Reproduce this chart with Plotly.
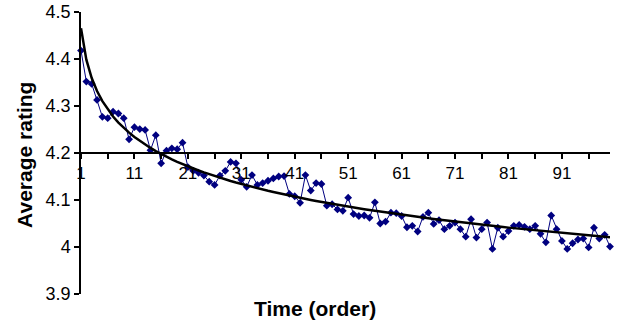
import numpy as np
import plotly.graph_objects as go

# Category index (time order) and average rating per position
order = list(range(1, 101))
avg_rating = [
    4.418, 4.352, 4.347, 4.313, 4.277, 4.274, 4.288, 4.284, 4.274, 4.229,
    4.255, 4.251, 4.249, 4.206, 4.238, 4.178, 4.205, 4.210, 4.208, 4.222,
    4.170, 4.162, 4.158, 4.152, 4.139, 4.132, 4.152, 4.162, 4.181, 4.178,
    4.143, 4.128, 4.153, 4.132, 4.136, 4.141, 4.146, 4.150, 4.151, 4.113,
    4.108, 4.094, 4.153, 4.120, 4.136, 4.134, 4.088, 4.091, 4.080, 4.077,
    4.105, 4.070, 4.066, 4.067, 4.062, 4.095, 4.050, 4.054, 4.073, 4.072,
    4.066, 4.042, 4.045, 4.033, 4.064, 4.073, 4.049, 4.057, 4.038, 4.045,
    4.052, 4.038, 4.022, 4.059, 4.020, 4.038, 4.052, 3.996, 4.041, 4.022,
    4.034, 4.045, 4.047, 4.043, 4.038, 4.045, 4.028, 4.010, 4.067, 4.038,
    4.013, 3.996, 4.008, 4.016, 4.018, 3.999, 4.041, 4.018, 4.026, 4.001,
]
x_tick_vals = [1, 11, 21, 31, 41, 51, 61, 71, 81, 91]
x_tick_text = [str(v) for v in x_tick_vals]
y_tick_vals = [3.9, 4.0, 4.1, 4.2, 4.3, 4.4, 4.5]
y_tick_text = ["3.9", "4", "4.1", "4.2", "4.3", "4.4", "4.5"]

# Logarithmic trendline (least squares on ln(x)), as Excel does
xs = np.array(order, dtype=float)
a, b = np.polyfit(np.log(xs), np.array(avg_rating), 1)
trend = a * np.log(xs) + b

FONT = "Arial, Liberation Sans, sans-serif"

fig = go.Figure()
fig.add_trace(go.Scatter(
    x=order, y=avg_rating, mode="lines+markers",
    line=dict(color="#000080", width=1),
    marker=dict(symbol="diamond", size=6, color="#000080"),
    cliponaxis=False, showlegend=False, hoverinfo="skip",
))
fig.add_trace(go.Scatter(
    x=order, y=trend, mode="lines",
    line=dict(color="black", width=2.5),
    cliponaxis=False, showlegend=False, hoverinfo="skip",
))

fig.update_layout(
    width=622, height=328, autosize=False,
    margin=dict(l=81, r=12, t=12, b=34),
    paper_bgcolor="white", plot_bgcolor="white",
    font=dict(family=FONT, size=17, color="black"),
    xaxis=dict(
        range=[1, 100], anchor="free", position=0.5, automargin=False,
        showline=True, linecolor="black", linewidth=1.5,
        tickmode="array", tickvals=x_tick_vals, ticktext=x_tick_text,
        ticks="outside", ticklen=5, tickwidth=1.5, tickcolor="black",
        minor=dict(tick0=1, dtick=5, ticks="outside", ticklen=5,
                   tickwidth=1.5, tickcolor="black", showgrid=False),
        showgrid=False, zeroline=False,
        tickfont=dict(family=FONT, size=17, color="black"),
    ),
    yaxis=dict(
        range=[3.9, 4.5], automargin=False,
        showline=True, linecolor="black", linewidth=1.5,
        tickmode="array", tickvals=y_tick_vals, ticktext=y_tick_text,
        ticks="outside", ticklen=5, tickwidth=1.5, tickcolor="black",
        showgrid=False, zeroline=False,
        tickfont=dict(family=FONT, size=18, color="black"),
    ),
    annotations=[
        dict(text="<b>Time (order)</b>", xref="paper", yref="paper",
             x=0.443, y=-0.05, xanchor="center", yanchor="middle",
             showarrow=False, font=dict(family=FONT, size=21, color="black")),
        dict(text="<b>Average rating</b>", xref="paper", yref="paper",
             x=-0.106, y=0.493, xanchor="center", yanchor="middle",
             textangle=-90, showarrow=False,
             font=dict(family=FONT, size=21, color="black")),
    ],
)

fig.write_html("out.html", config={"displayModeBar": False},
               post_script="document.body.style.margin='0';document.body.style.overflow='hidden';")
